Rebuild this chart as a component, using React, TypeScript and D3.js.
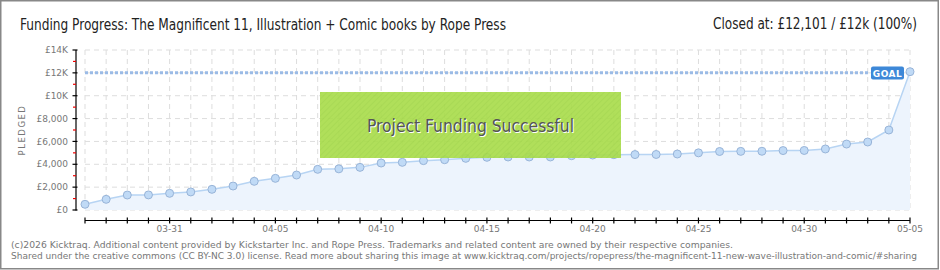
import React from "react";
import * as d3 from "d3";

const dates = [
  "03-27","03-28","03-29","03-30","03-31","04-01","04-02","04-03","04-04","04-05",
  "04-06","04-07","04-08","04-09","04-10","04-11","04-12","04-13","04-14","04-15",
  "04-16","04-17","04-18","04-19","04-20","04-21","04-22","04-23","04-24","04-25",
  "04-26","04-27","04-28","04-29","04-30","05-01","05-02","05-03","05-04","05-05",
];
const pledged = [
  500, 935, 1310, 1320, 1460, 1580, 1810, 2100, 2510, 2770,
  3060, 3560, 3600, 3730, 4110, 4170, 4320, 4400, 4520, 4610,
  4640, 4640, 4640, 4750, 4810, 4840, 4850, 4860, 4900, 5000,
  5120, 5130, 5140, 5200, 5210, 5340, 5770, 5950, 7000, 12101,
];
const goal = 12000;
const yTicks = [0, 2000, 4000, 6000, 8000, 10000, 12000, 14000];
const yMinorTicks = [1000, 3000, 5000, 7000, 9000, 11000, 13000];
const yTickLabels = ["£0", "£2,000", "£4,000", "£6,000", "£8,000", "£10K", "£12K", "£14K"];
const xLabelDates = ["03-31", "04-05", "04-10", "04-15", "04-20", "04-25", "04-30", "05-05"];

const title = "Funding Progress: The Magnificent 11, Illustration + Comic books by Rope Press";
const status = "Closed at: £12,101 / £12k (100%)";
const footer1 =
  "(c)2026 Kicktraq. Additional content provided by Kickstarter Inc. and Rope Press. Trademarks and related content are owned by their respective companies.";
const footer2 =
  "Shared under the creative commons (CC BY-NC 3.0) license. Read more about sharing this image at www.kicktraq.com/projects/ropepress/the-magnificent-11-new-wave-illustration-and-comic/#sharing";

export default function App() {
  const W = 940, H = 270;
  const x = d3.scalePoint<string>().domain(dates).range([85, 910]);
  const y = d3.scaleLinear().domain([0, 14000]).range([210, 50]);
  const pts = dates.map((d, i) => ({ d, v: pledged[i] }));
  const line = d3.line<{ d: string; v: number }>().x((p) => x(p.d)!).y((p) => y(p.v));
  const area = d3
    .area<{ d: string; v: number }>()
    .x((p) => x(p.d)!)
    .y0(y(0))
    .y1((p) => y(p.v));
  const x0 = x(dates[0])!, x1 = x(dates[dates.length - 1])!;
  const axisFont = "DejaVu Sans, sans-serif";
  const condFont = "DejaVu Sans Condensed, DejaVu Sans, sans-serif";

  return (
    <svg
      width={W}
      height={H}
      style={{ position: "absolute", left: 0, top: 0, background: "#fff" }}
      xmlns="http://www.w3.org/2000/svg"
    >
      <defs>
        <pattern id="stripes" width="4" height="4" patternUnits="userSpaceOnUse" patternTransform="rotate(45)">
          <rect width="4" height="4" fill="#a9dc4c" />
          <line x1="0" y1="0" x2="0" y2="4" stroke="#9fd444" strokeWidth="1.5" />
        </pattern>
      </defs>
      <rect x={0.75} y={0.75} width={937.5} height={268} fill="#fff" stroke="#888" strokeWidth={1.5} />

      {/* Titles */}
      <text x={20} y={29.5} fontFamily={condFont} fontSize={16} fill="#222" textLength={486} lengthAdjust="spacingAndGlyphs">
        {title}
      </text>
      <text x={713} y={28.5} fontFamily={condFont} fontSize={15} fill="#222" textLength={204} lengthAdjust="spacingAndGlyphs">
        {status}
      </text>

      {/* Grid */}
      {dates.map((d) => (
        <line key={"vg" + d} x1={x(d)} x2={x(d)} y1={50} y2={210} stroke="#ddd" strokeDasharray="5 4" />
      ))}
      {yTicks.map((t) => (
        <line key={"hg" + t} x1={x0} x2={x1} y1={y(t)} y2={y(t)} stroke="#ddd" strokeDasharray="5 4" />
      ))}

      {/* Area + line */}
      <path d={area(pts)!} fill="#edf4fd" />
      <path d={line(pts)!} fill="none" stroke="#b7d4f3" strokeWidth={1.5} />

      {/* Goal line */}
      <line x1={x0} x2={868} y1={y(goal)} y2={y(goal)} stroke="#9bbbe6" strokeWidth={3} strokeDasharray="3 2" />

      {/* Points */}
      {pts.map((p) => (
        <circle key={"pt" + p.d} cx={x(p.d)} cy={y(p.v)} r={4} fill="#c0daf6" stroke="#98b4d8" strokeWidth={1} />
      ))}

      {/* Goal label */}
      <rect x={871} y={66.5} width={33} height={13} rx={2} fill="#3d88d8" />
      <text x={887.5} y={76.5} textAnchor="middle" fontFamily={axisFont} fontSize={9} fontWeight="bold" fill="#fff" letterSpacing={0.5}>
        GOAL
      </text>

      {/* Success banner */}
      <rect x={320} y={92} width={301} height={66} fill="url(#stripes)" opacity={0.92} />
      <text x={471.5} y={133} textAnchor="middle" fontFamily={condFont} fontSize={18} fill="#fff" textLength={207} lengthAdjust="spacingAndGlyphs">
        Project Funding Successful
      </text>
      <text x={470.5} y={132} textAnchor="middle" fontFamily={condFont} fontSize={18} fill="#555" textLength={207} lengthAdjust="spacingAndGlyphs">
        Project Funding Successful
      </text>

      {/* Y axis */}
      <line x1={76} x2={76} y1={50} y2={210.5} stroke="#000" strokeWidth={1.2} />
      {yTicks.map((t, i) => (
        <g key={"yt" + t}>
          <line x1={72.5} x2={77.5} y1={y(t)} y2={y(t)} stroke="#000" strokeWidth={1.2} />
          <text x={68} y={y(t)} dy="0.35em" textAnchor="end" fontFamily={axisFont} fontSize={9} fill="#777">
            {yTickLabels[i]}
          </text>
        </g>
      ))}
      {yMinorTicks.map((t) => (
        <line key={"ym" + t} x1={73} x2={76} y1={y(t)} y2={y(t)} stroke="#e00" strokeWidth={1.2} />
      ))}
      <text transform="translate(25,130) rotate(-90)" textAnchor="middle" fontFamily={axisFont} fontSize={8.5} fill="#777" letterSpacing={1.5}>
        PLEDGED
      </text>

      {/* X axis */}
      <line x1={x0} x2={x1} y1={220.5} y2={220.5} stroke="#000" strokeWidth={1.2} />
      {dates.map((d) => (
        <line key={"xt" + d} x1={x(d)} x2={x(d)} y1={217.5} y2={223.5} stroke="#000" strokeWidth={1.2} />
      ))}
      {xLabelDates.map((d) => (
        <text key={"xl" + d} x={x(d)} y={232} textAnchor="middle" fontFamily={axisFont} fontSize={9} fill="#777">
          {d}
        </text>
      ))}

      {/* Footer */}
      <text x={11} y={247.5} fontFamily={axisFont} fontSize={9.4} fill="#777" textLength={722} lengthAdjust="spacingAndGlyphs">
        {footer1}
      </text>
      <text x={11} y={259} fontFamily={axisFont} fontSize={9} fill="#777" textLength={906} lengthAdjust="spacingAndGlyphs">
        {footer2}
      </text>
    </svg>
  );
}
